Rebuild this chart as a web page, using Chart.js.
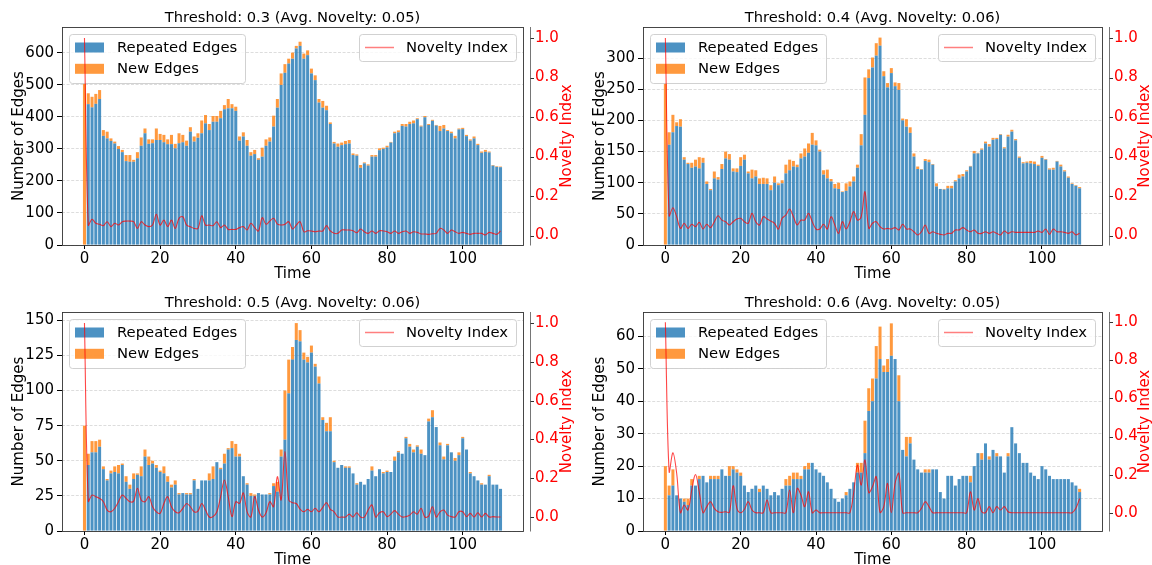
<!DOCTYPE html>
<html><head><meta charset="utf-8">
<script src="https://cdn.jsdelivr.net/npm/chart.js@4.4.0/dist/chart.umd.min.js"></script>
<style>
html,body{margin:0;padding:0;background:#fff;}
#wrap{position:relative;width:1152px;height:565px;overflow:hidden;background:#fff;}
.cell{position:absolute;}
canvas{display:block;}
</style></head><body>
<div id="wrap">
<div class="cell" style="left:0;top:0;"><canvas id="c0" width="576" height="282"></canvas></div>
<div class="cell" style="left:576px;top:0;"><canvas id="c1" width="576" height="282"></canvas></div>
<div class="cell" style="left:0;top:282px;"><canvas id="c2" width="576" height="283"></canvas></div>
<div class="cell" style="left:576px;top:282px;"><canvas id="c3" width="576" height="283"></canvas></div>
</div>
<script>
// ---------------- DATA ----------------
const times = [0,1,2,3,4,5,6,7,8,9,10,11,12,13,14,15,16,17,18,19,20,21,22,23,24,25,26,27,28,29,30,31,32,33,34,35,36,37,38,39,40,41,42,43,44,45,46,47,48,49,50,51,52,53,54,55,56,57,58,59,60,61,62,63,64,65,66,67,68,69,70,71,72,73,74,75,76,77,78,79,80,81,82,83,84,85,86,87,88,89,90,91,92,93,94,95,96,97,98,99,100,101,102,103,104,105,106,107,108,109,110];
const xTickLabels = [0,20,40,60,80,100];
const noveltyTicks = [0.0,0.2,0.4,0.6,0.8,1.0];

const titles = [
  "Threshold: 0.3 (Avg. Novelty: 0.05)",
  "Threshold: 0.4 (Avg. Novelty: 0.06)",
  "Threshold: 0.5 (Avg. Novelty: 0.06)",
  "Threshold: 0.6 (Avg. Novelty: 0.05)"
];

// Threshold 0.3
const repeated03 = [0,440,430,441,456,341,333,325,317,300,
290,262,260,260,271,310,349,316,318,328,
328,321,315,315,302,318,321,310,354,323,
335,349,380,359,385,385,396,424,427,427,
419,326,339,310,279,284,266,276,310,323,
370,429,500,538,567,582,614,622,582,593,
536,515,445,429,421,378,317,307,312,315,
317,281,279,241,255,248,276,276,296,300,
305,320,349,352,372,370,378,380,393,370,
399,375,388,373,356,364,356,349,333,361,
362,340,326,333,312,288,291,289,248,244,243];
const new03 = [505,34,33,31,28,18,21,8,6,9,
7,19,21,6,19,26,15,14,12,36,
19,23,15,29,14,31,23,16,14,16,
14,40,26,19,18,18,23,13,29,13,
13,13,13,18,11,13,5,28,20,13,
34,27,36,27,15,19,8,13,16,15,
15,15,11,21,14,5,5,10,8,10,
11,5,4,9,3,4,5,5,6,4,
5,2,5,6,6,8,7,9,3,3,
4,3,3,2,16,11,3,5,8,3,
4,4,4,6,4,4,6,3,2,2,2];
const novelty03 = [1.0,0.053,0.082,0.062,0.057,0.050,0.070,0.045,0.062,0.053,
0.070,0.073,0.073,0.070,0.036,0.070,0.053,0.045,0.053,0.107,
0.053,0.078,0.045,0.078,0.036,0.087,0.095,0.053,0.045,0.036,
0.036,0.100,0.053,0.053,0.050,0.070,0.040,0.053,0.031,0.031,
0.031,0.040,0.045,0.028,0.062,0.040,0.023,0.090,0.057,0.073,
0.087,0.058,0.053,0.057,0.070,0.033,0.053,0.070,0.019,0.024,
0.023,0.019,0.023,0.023,0.050,0.023,0.011,0.011,0.028,0.028,
0.028,0.024,0.014,0.033,0.019,0.011,0.023,0.011,0.024,0.023,
0.019,0.011,0.023,0.011,0.019,0.023,0.011,0.019,0.016,0.008,
0.008,0.006,0.009,0.011,0.036,0.028,0.011,0.028,0.019,0.011,
0.016,0.011,0.006,0.011,0.011,0.011,0.003,0.016,0.011,0.006,0.023];

// Threshold 0.4
const repeated04 = [0,161,181,191,190,137,130,124,126,123,
132,98,88,107,105,122,139,137,118,117,
127,137,115,107,110,98,98,98,88,100,
96,99,115,120,126,125,139,142,148,161,
160,150,113,107,102,91,90,85,87,94,
102,124,160,209,268,285,304,320,271,253,
276,255,249,200,190,180,142,122,121,135,
133,129,94,90,89,91,91,102,107,110,
118,126,147,147,153,163,158,169,170,177,
155,174,182,168,140,131,132,131,130,127,
140,137,121,121,134,126,118,108,98,95,91];
const new04 = [260,20,28,6,12,4,2,8,11,18,
8,4,2,11,4,8,11,9,5,6,
14,8,3,14,10,9,10,9,8,10,
3,5,14,17,9,4,8,13,15,19,
8,3,7,14,4,7,10,1,12,8,
8,5,18,60,14,16,20,13,8,7,
8,6,11,3,12,9,5,4,1,3,
4,1,5,0,1,4,4,2,6,4,
2,1,4,1,2,3,4,3,2,1,
2,3,3,2,2,2,2,4,4,2,
3,1,2,3,1,3,2,2,1,1,2];
const novelty04 = [1.0,0.100,0.141,0.095,0.036,0.062,0.036,0.057,0.045,0.067,
0.033,0.057,0.040,0.070,0.100,0.078,0.070,0.053,0.070,0.084,
0.087,0.070,0.062,0.112,0.070,0.053,0.095,0.084,0.073,0.062,
0.033,0.087,0.104,0.134,0.095,0.053,0.078,0.078,0.112,0.070,
0.033,0.033,0.057,0.033,0.095,0.053,0.011,0.070,0.033,0.070,
0.121,0.078,0.095,0.222,0.036,0.062,0.070,0.045,0.033,0.036,
0.033,0.040,0.028,0.057,0.033,0.033,0.019,0.003,0.019,0.053,
0.011,0.019,0.011,0.006,0.003,0.011,0.011,0.028,0.028,0.040,
0.028,0.019,0.028,0.011,0.011,0.019,0.011,0.019,0.011,0.003,
0.023,0.011,0.019,0.016,0.016,0.016,0.016,0.016,0.016,0.023,
0.016,0.033,0.006,0.033,0.019,0.019,0.016,0.011,0.019,0.003,0.011];

// Threshold 0.5
const repeated05 = [0,47,56,56,60,44,36,41,42,41,
47,35,30,37,40,39,53,47,48,45,
42,41,35,31,33,26,27,26,26,36,
30,36,36,36,37,49,44,48,58,59,
53,53,39,33,25,25,27,26,26,26,
32,28,53,65,98,122,136,135,122,120,
127,117,105,79,71,71,49,45,47,45,
45,41,33,35,33,37,43,39,44,41,
42,42,50,56,55,66,60,56,60,55,
54,78,81,74,61,51,61,56,50,54,
66,58,41,39,36,33,33,39,33,33,30];
const new05 = [75,8,8,8,5,2,1,2,4,6,
1,4,3,4,1,7,5,6,2,2,
1,5,4,2,3,1,0,1,1,1,
0,0,0,5,9,0,1,7,1,5,
9,2,0,1,2,1,0,0,0,1,
2,7,5,35,24,9,12,8,5,4,
5,2,5,2,6,10,1,0,0,1,
1,0,1,0,0,0,3,0,0,1,
1,0,3,1,0,1,2,2,1,3,
0,2,5,0,2,2,1,0,2,2,
1,0,1,0,0,1,0,1,0,0,0];
const novelty05 = [1.0,0.082,0.113,0.105,0.096,0.079,0.036,0.027,0.045,0.079,
0.113,0.096,0.079,0.082,0.148,0.088,0.079,0.105,0.053,0.027,
0.019,0.070,0.105,0.053,0.027,0.022,0.045,0.070,0.053,0.027,
0.031,0.070,0.036,0.0,0.002,0.027,0.105,0.191,0.105,0.002,
0.079,0.070,0.125,0.027,0.0,0.105,0.036,0.0,0.022,0.079,
0.053,0.208,0.088,0.337,0.088,0.074,0.070,0.041,0.027,0.040,
0.027,0.045,0.027,0.050,0.074,0.040,0.027,0.0,0.0,0.0,
0.015,0.0,0.022,0.0,0.0,0.036,0.062,0.0,0.022,0.027,
0.002,0.015,0.033,0.015,0.0,0.002,0.010,0.027,0.015,0.045,
0.0,0.005,0.053,0.0,0.027,0.036,0.010,0.002,0.0,0.027,
0.027,0.002,0.019,0.0,0.022,0.0,0.019,0.0,0.002,0.0,0.0];

// Threshold 0.6
const repeated06 = [0,11,14,11,10,9,8,14,14,16,
17,15,16,16,16,19,17,17,19,18,
17,14,12,13,14,12,14,13,11,12,
11,13,14,14,16,16,16,19,19,21,
19,18,17,15,13,10,9,10,11,13,
15,18,18,24,37,40,47,53,49,49,
54,53,40,25,23,27,22,19,18,18,
18,19,19,12,10,17,17,14,16,17,
17,15,20,24,22,27,22,25,23,23,
18,23,32,27,24,21,21,18,17,16,
20,19,17,16,16,16,16,16,15,14,12];
const new06 = [20,3,5,0,0,1,2,2,0,1,
0,0,1,1,1,0,0,3,1,1,
1,0,0,0,0,1,0,0,0,0,
0,0,2,3,2,2,1,1,2,0,
0,0,0,0,0,0,0,0,1,0,
0,3,3,10,7,7,10,10,2,4,
10,0,8,0,6,2,0,0,0,1,
1,0,0,0,0,0,0,0,0,0,
0,2,0,0,2,0,1,0,1,0,
0,1,0,0,0,0,0,0,0,0,
0,0,0,0,0,0,0,0,0,0,1];
const novelty06 = [1.0,0.215,0.315,0.207,0.0,0.040,0.014,0.119,0.201,0.110,
0.0,0.032,0.058,0.023,0.005,0.002,0.005,0.002,0.142,0.023,
0.0,0.018,0.058,0.014,0.0,0.0,0.0,0.067,0.0,0.0,
0.0,0.0,0.0,0.119,0.0,0.128,0.093,0.032,0.110,0.0,
0.014,0.0,0.0,0.0,0.0,0.0,0.0,0.0,0.0,0.0,
0.105,0.250,0.145,0.277,0.105,0.137,0.189,0.002,0.032,0.154,
0.0,0.154,0.207,0.0,0.0,0.0,0.0,0.0,0.023,0.058,
0.032,0.0,0.0,0.0,0.0,0.0,0.0,0.0,0.0,0.0,
0.0,0.110,0.014,0.075,0.005,0.0,0.032,0.0,0.032,0.014,
0.032,0.005,0.0,0.0,0.0,0.0,0.0,0.0,0.0,0.0,
0.0,0.0,0.0,0.0,0.0,0.0,0.0,0.0,0.0,0.023,0.075];

const edgeTicks03 = [0,100,200,300,400,500,600];
const edgeTicks04 = [0,50,100,150,200,250,300];
const edgeTicks05 = [0,25,50,75,100,125,150];
const edgeTicks06 = [0,10,20,30,40,50,60];

// ---------------- STYLE ----------------
const FONT = "'DejaVu Sans', 'Liberation Sans', sans-serif";
const BLUE = 'rgba(31,119,180,0.8)';
const ORANGE = 'rgba(255,127,14,0.8)';
const RED = 'rgba(255,0,0,0.72)';

function roundRect(ctx, x, y, w, h, r) {
  ctx.beginPath();
  ctx.moveTo(x + r, y);
  ctx.lineTo(x + w - r, y);
  ctx.quadraticCurveTo(x + w, y, x + w, y + r);
  ctx.lineTo(x + w, y + h - r);
  ctx.quadraticCurveTo(x + w, y + h, x + w - r, y + h);
  ctx.lineTo(x + r, y + h);
  ctx.quadraticCurveTo(x, y + h, x, y + h - r);
  ctx.lineTo(x, y + r);
  ctx.quadraticCurveTo(x, y, x + r, y);
  ctx.closePath();
}

function makeChart(id, cfg) {
  const f = cfg.frame;
  const deco = {
    id: 'deco',
    beforeDatasetDraw(chart, args) {
      if (args.index !== 2) return;
      const ctx = chart.ctx;
      const a = chart.chartArea;
      const bx = a.left + 7, by = a.top + 7, bw = 176, bh = 49;
      ctx.save();
      roundRect(ctx, bx + 0.5, by + 0.5, bw, bh, 3);
      ctx.fillStyle = 'rgba(255,255,255,0.8)';
      ctx.fill();
      ctx.strokeStyle = 'rgba(204,204,204,0.9)';
      ctx.lineWidth = 1;
      ctx.stroke();
      ctx.fillStyle = BLUE;
      ctx.fillRect(bx + 6, by + 13.5 - 5, 29, 10);
      ctx.fillStyle = ORANGE;
      ctx.fillRect(bx + 6, by + 34.8 - 5, 29, 10);
      ctx.fillStyle = '#000';
      ctx.font = '14.8px ' + FONT;
      ctx.textBaseline = 'middle';
      ctx.textAlign = 'left';
      ctx.fillText('Repeated Edges', bx + 48, by + 14);
      ctx.fillText('New Edges', bx + 48, by + 35.3);
      ctx.restore();
    },
    afterDraw(chart) {
      const ctx = chart.ctx;
      const a = chart.chartArea;
      ctx.save();
      // right legend
      const rw = 157, rh = 27;
      const rx = a.right - 7 - rw, ry = a.top + 7;
      roundRect(ctx, rx + 0.5, ry + 0.5, rw, rh, 3);
      ctx.fillStyle = 'rgba(255,255,255,0.8)';
      ctx.fill();
      ctx.strokeStyle = 'rgba(204,204,204,0.9)';
      ctx.lineWidth = 1;
      ctx.stroke();
      ctx.strokeStyle = 'rgba(255,0,0,0.5)';
      ctx.lineWidth = 1.5;
      ctx.beginPath();
      ctx.moveTo(rx + 6, ry + 13.5);
      ctx.lineTo(rx + 35, ry + 13.5);
      ctx.stroke();
      ctx.fillStyle = '#000';
      ctx.font = '14.8px ' + FONT;
      ctx.textBaseline = 'middle';
      ctx.textAlign = 'left';
      ctx.fillText('Novelty Index', rx + 47, ry + 14);

      // frame
      ctx.strokeStyle = '#333';
      ctx.lineWidth = 0.9;
      ctx.strokeRect(a.left + 0.5, a.top + 0.5, a.right - a.left, a.bottom - a.top);
      // right twin spine (offset)
      const sx = a.right + 7.5;
      ctx.strokeStyle = '#666';
      ctx.beginPath();
      ctx.moveTo(sx, a.top);
      ctx.lineTo(sx, a.bottom + 0.5);
      ctx.stroke();
      const y1 = chart.scales.y1;
      ctx.strokeStyle = '#333';
      ctx.lineWidth = 1;
      noveltyTicks.forEach(v => {
        const py = Math.round(y1.getPixelForValue(v)) + 0.5;
        ctx.beginPath();
        ctx.moveTo(sx, py);
        ctx.lineTo(sx + 3.5, py);
        ctx.stroke();
      });

      // title
      ctx.fillStyle = '#000';
      ctx.font = '14.7px ' + FONT;
      ctx.textAlign = 'center';
      ctx.textBaseline = 'alphabetic';
      ctx.fillText(cfg.title, (a.left + a.right) / 2, a.top - 5);
      // x label
      ctx.font = '15px ' + FONT;
      ctx.fillText('Time', (a.left + a.right) / 2, a.bottom + 33);
      // y label
      const cy = (a.top + a.bottom) / 2;
      ctx.save();
      ctx.translate(cfg.yLabelX, cy);
      ctx.rotate(-Math.PI / 2);
      ctx.textBaseline = 'middle';
      ctx.fillText('Number of Edges', 0, 0);
      ctx.restore();
      // right label
      ctx.save();
      ctx.translate(cfg.y1LabelX, cy);
      ctx.rotate(-Math.PI / 2);
      ctx.textBaseline = 'middle';
      ctx.fillStyle = '#ff0000';
      ctx.fillText('Novelty Index', 0, 0);
      ctx.restore();
      ctx.restore();
    }
  };

  return new Chart(document.getElementById(id), {
    type: 'bar',
    data: {
      datasets: [
        { type: 'bar', label: 'Repeated Edges', data: times.map((t, i) => ({ x: t, y: cfg.rep[i] })),
          backgroundColor: BLUE, borderWidth: 0, stack: 's', order: 1, yAxisID: 'y',
          barPercentage: 0.8, categoryPercentage: 1.0 },
        { type: 'bar', label: 'New Edges', data: times.map((t, i) => ({ x: t, y: cfg.neu[i] })),
          backgroundColor: ORANGE, borderWidth: 0, stack: 's', order: 1, yAxisID: 'y',
          barPercentage: 0.8, categoryPercentage: 1.0 },
        { type: 'line', label: 'Novelty Index', data: times.map((t, i) => ({ x: t, y: cfg.nov[i] })),
          borderColor: RED, borderWidth: 1.1, pointRadius: 0, tension: 0.35, fill: false,
          order: 0, yAxisID: 'y1' }
      ]
    },
    options: {
      responsive: false, animation: false, devicePixelRatio: 1,
      layout: { padding: { top: f.top, left: 0, right: 0, bottom: 0 } },
      plugins: { legend: { display: false }, tooltip: { enabled: false }, title: { display: false } },
      scales: {
        x: {
          type: 'linear', min: -5.94, max: 115.94, stacked: true, offset: false,
          afterBuildTicks: s => { s.ticks = xTickLabels.map(v => ({ value: v })); },
          afterFit: s => { s.height = cfg.cellH - f.bottom; },
          grid: { display: true, offset: false, drawOnChartArea: false, drawTicks: true, tickLength: 4, tickColor: '#000', tickWidth: 1 },
          border: { display: false },
          ticks: { font: { family: FONT, size: 15 }, color: '#000', padding: 1, maxRotation: 0, autoSkip: false }
        },
        y: {
          type: 'linear', position: 'left', stacked: true, min: 0, max: cfg.yMax,
          afterBuildTicks: s => { s.ticks = cfg.yTicks.map(v => ({ value: v })); },
          afterFit: s => { s.width = f.left; },
          grid: { color: 'rgba(170,170,170,0.5)', lineWidth: 0.8, drawTicks: true, tickLength: 5, tickColor: '#000', tickWidth: 1 },
          border: { display: false, dash: [3, 1.6] },
          ticks: { font: { family: FONT, size: 15 }, color: '#000', padding: 3 }
        },
        y1: {
          type: 'linear', position: 'right', min: cfg.y1Min, max: cfg.y1Max,
          afterBuildTicks: s => { s.ticks = noveltyTicks.map(v => ({ value: v })); },
          afterFit: s => { s.width = cfg.cellW - f.right; },
          grid: { display: false, drawTicks: false, drawOnChartArea: false },
          border: { display: false },
          ticks: { font: { family: FONT, size: 15 }, color: '#ff0000', padding: 12, callback: v => Number(v).toFixed(1) }
        }
      }
    },
    plugins: [deco]
  });
}

makeChart('c0', { title: titles[0], rep: repeated03, neu: new03, nov: novelty03, yMax: 681, yTicks: edgeTicks03,
  y1Min: -0.048, y1Max: 1.056, frame: { left: 62, right: 523, top: 27, bottom: 245 }, cellW: 576, cellH: 282,
  yLabelX: 19, y1LabelX: 567 });
makeChart('c1', { title: titles[1], rep: repeated04, neu: new04, nov: novelty04, yMax: 350, yTicks: edgeTicks04,
  y1Min: -0.048, y1Max: 1.056, frame: { left: 67, right: 526, top: 27, bottom: 245 }, cellW: 576, cellH: 282,
  yLabelX: 24, y1LabelX: 569 });
makeChart('c2', { title: titles[2], rep: repeated05, neu: new05, nov: novelty05, yMax: 155.9, yTicks: edgeTicks05,
  y1Min: -0.072, y1Max: 1.057, frame: { left: 62, right: 523, top: 30, bottom: 249 }, cellW: 576, cellH: 283,
  yLabelX: 19, y1LabelX: 567 });
makeChart('c3', { title: titles[3], rep: repeated06, neu: new06, nov: novelty06, yMax: 67.5, yTicks: edgeTicks06,
  y1Min: -0.096, y1Max: 1.054, frame: { left: 67, right: 526, top: 30, bottom: 249 }, cellW: 576, cellH: 283,
  yLabelX: 24, y1LabelX: 569 });
</script>
</body></html>
